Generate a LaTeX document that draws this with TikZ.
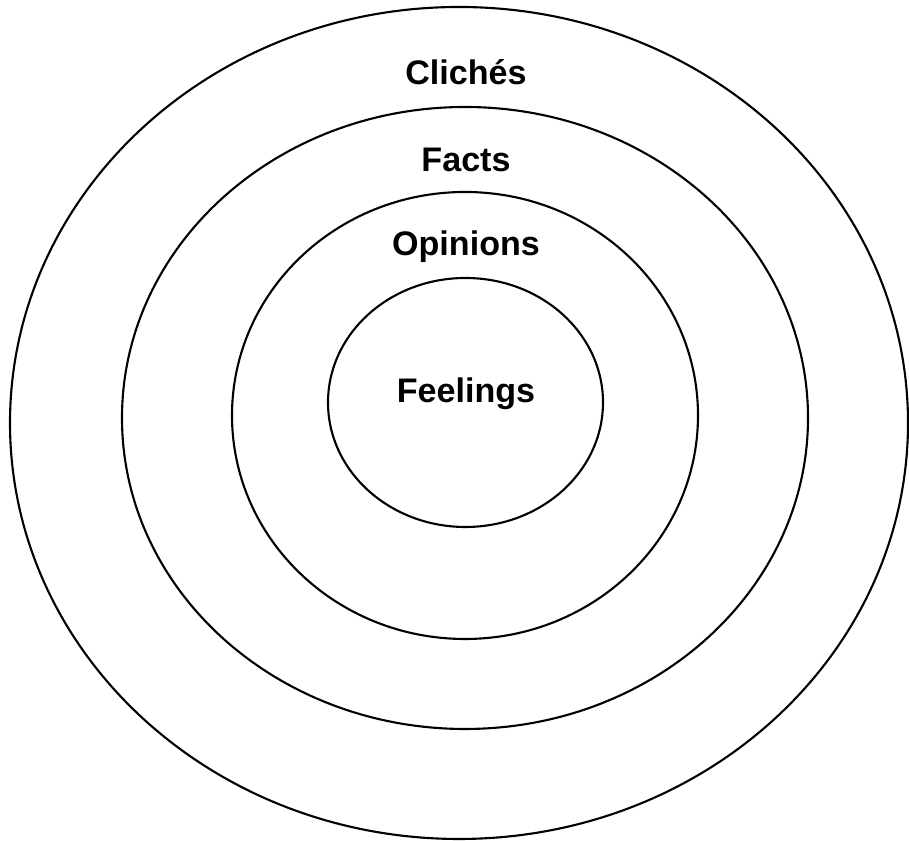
\documentclass[tikz,border=0pt]{standalone}
\usepackage{fontspec}
\setmainfont{Liberation Sans}
\usepackage{tikz}
\usetikzlibrary{shapes.geometric}

\begin{document}
\begin{tikzpicture}[
  ring/.style={ellipse,draw,line width=0.6pt,inner sep=0pt},
  lbl/.style={anchor=base,inner sep=0pt,font=\fontsize{9.7}{11.6}\selectfont\bfseries},
]
\useasboundingbox (0,0) rectangle (9.09,8.41);
% rings, outer to inner
\node[ring,minimum width=8.98cm,minimum height=8.32cm] (cliches) at (4.59,4.18) {};
\node[ring,minimum width=6.86cm,minimum height=6.22cm] (facts) at (4.65,4.23) {};
\node[ring,minimum width=4.66cm,minimum height=4.47cm] (opinions) at (4.65,4.255) {};
\node[ring,minimum width=2.75cm,minimum height=2.49cm] (feelings) at (4.655,4.385) {};

% labels
\node[lbl] (clicheslbl) at (4.66,7.56) {Clichés};
\node[lbl] (factslbl) at (4.66,6.69) {Facts};
\node[lbl] (opinionslbl) at (4.66,5.85) {Opinions};
\node[lbl] (feelingslbl) at (4.66,4.38) {Feelings};
\end{tikzpicture}
\end{document}
